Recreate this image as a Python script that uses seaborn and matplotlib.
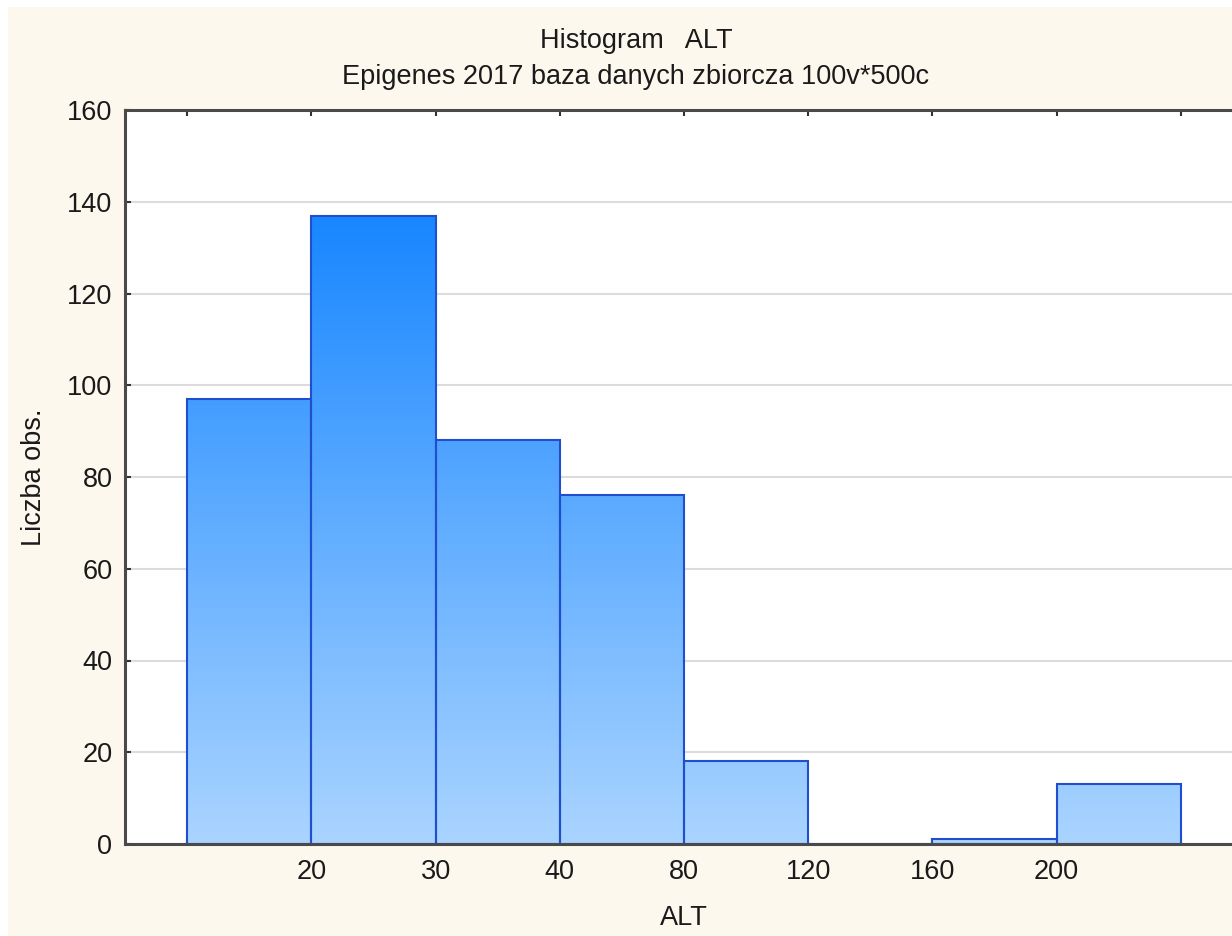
import numpy as np
import pandas as pd
import matplotlib
matplotlib.use("Agg")
import matplotlib.pyplot as plt
from matplotlib.colors import LinearSegmentedColormap
from matplotlib.patches import Rectangle
import seaborn as sns

# Histogram data: class intervals of ALT and their counts
bins = ["<20", "20-30", "30-40", "40-80", "80-120", "120-160", "160-200", ">200"]
counts = [97, 137, 88, 76, 18, 0, 1, 13]
edge_labels = ["20", "30", "40", "80", "120", "160", "200"]
y_ticks = [0, 20, 40, 60, 80, 100, 120, 140, 160]

title_main = "Histogram   ALT"
title_sub = "Epigenes 2017 baza danych zbiorcza 100v*500c"

sns.set_theme(style="white")
plt.rcParams["font.family"] = ["Liberation Sans", "DejaVu Sans"]

FS = 19.5
W, H = 1232, 936
fig = plt.figure(figsize=(W / 100, H / 100), dpi=100, facecolor="white")

# cream panel behind the chart, leaving a thin white margin top and left
fig.patches.append(Rectangle((8 / W, 0), 1, 1 - 7 / H, transform=fig.transFigure,
                             facecolor="#FDF8EE", edgecolor="none", zorder=-10))

left, right, top, bottom = 125, 1243, 110, 844
ax = fig.add_axes([left / W, 1 - bottom / H, (right - left) / W, (bottom - top) / H])
ax.set_facecolor("white")

df = pd.DataFrame({"bin": bins, "count": counts})
sns.barplot(data=df, x="bin", y="count", order=bins, width=1.0,
            facecolor="none", edgecolor="#1F4FCF", linewidth=1.5, ax=ax, zorder=3)

# vertical blue gradient fill, tied to the value axis
cmap = LinearSegmentedColormap.from_list("alt_blue", ["#AAD4FF", "#1585FF"])
grad = np.linspace(0, 1, 256).reshape(-1, 1)
for patch in ax.patches:
    x0 = patch.get_x()
    w, h = patch.get_width(), patch.get_height()
    if h <= 0:
        continue
    im = ax.imshow(grad, cmap=cmap, vmin=0, vmax=140 / 160,
                   extent=(x0, x0 + w, 0, 160), origin="lower",
                   aspect="auto", zorder=2, interpolation="bilinear")
    im.set_clip_path(patch)
ax.set_xlim(-1, len(bins))
ax.set_ylim(0, 160)

# ticks at class boundaries
edges = np.arange(len(bins) + 1) - 0.5
ax.set_xticks(edges)
ax.set_xticklabels([""] + edge_labels + [""])
ax.set_yticks(y_ticks)
ax.tick_params(axis="both", direction="in", length=4, width=1.5, color="#333333",
               labelsize=FS, labelcolor="#1a1a1a")
ax.tick_params(axis="x", top=True, bottom=True, pad=11)
ax.tick_params(axis="y", left=True, pad=9)

ax.yaxis.grid(True, color="#DCDCDC", linewidth=1.5, zorder=0)
ax.set_axisbelow(True)

for side in ["left", "top", "bottom"]:
    ax.spines[side].set_visible(True)
    ax.spines[side].set_color("#4A4A4A")
    ax.spines[side].set_linewidth(2.2)
    ax.spines[side].set_zorder(5)
ax.spines["right"].set_visible(False)

ax.set_xlabel("ALT", fontsize=FS, color="#1a1a1a")
ax.set_ylabel("Liczba obs.", fontsize=FS, color="#1a1a1a")
ax.xaxis.set_label_coords(0.5, -(905 - bottom) / (bottom - top))
ax.yaxis.set_label_coords((47 - left) / (right - left), 0.5)

fig.text(636 / W, 1 - 48 / H, title_main, ha="center", va="baseline",
         fontsize=FS, color="#1a1a1a")
fig.text(636 / W, 1 - 84 / H, title_sub, ha="center", va="baseline",
         fontsize=FS, color="#1a1a1a")

fig.savefig("out.png", dpi=100, facecolor=fig.get_facecolor())
